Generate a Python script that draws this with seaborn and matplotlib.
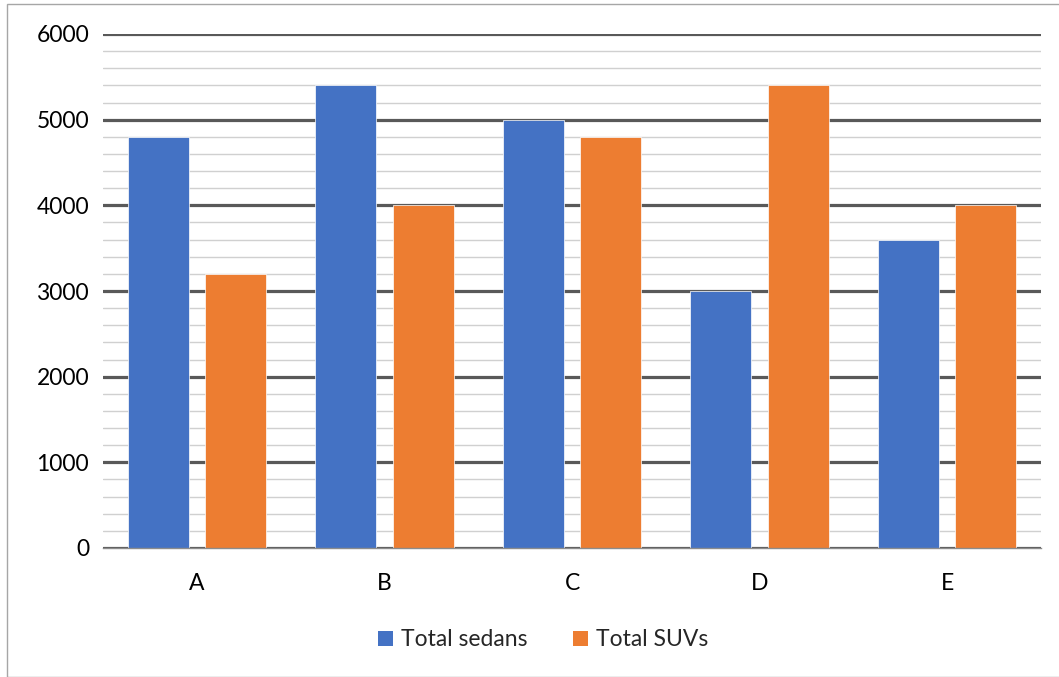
import matplotlib
matplotlib.use("Agg")
import matplotlib.pyplot as plt
from matplotlib.patches import Rectangle, Patch
from matplotlib.ticker import MultipleLocator
import seaborn as sns
import pandas as pd

categories = ["A", "B", "C", "D", "E"]
sedans = [4800, 5400, 5000, 3000, 3600]
suvs = [3200, 4000, 4800, 5400, 4000]
series_names = ["Total sedans", "Total SUVs"]
colors = ["#4472C4", "#ED7D31"]

df = pd.DataFrame({
    "category": categories * 2,
    "value": sedans + suvs,
    "series": [series_names[0]] * len(categories) + [series_names[1]] * len(categories),
})

sns.set_theme(style="white")
plt.rcParams["font.family"] = ["Lato", "DejaVu Sans"]

fig = plt.figure(figsize=(10.59, 6.77), dpi=100)
ax = fig.add_axes([103 / 1059, 1 - 548 / 677, (1041 - 103) / 1059, (548 - 34) / 677])

sns.barplot(data=df, x="category", y="value", hue="series", palette=colors,
            saturation=1, width=0.826, gap=0.213, ax=ax, legend=False,
            linewidth=0.5, edgecolor="white", zorder=3, errorbar=None)

ax.set_xlim(-0.5, 4.5)
ax.set_ylim(0, 6000)
ax.yaxis.set_major_locator(MultipleLocator(1000))
ax.yaxis.set_minor_locator(MultipleLocator(200))
ax.grid(which="major", axis="y", color="#595959", linewidth=2.3, zorder=1)
ax.grid(which="minor", axis="y", color="#D0D0D0", linewidth=1.0, zorder=0)
ax.grid(which="both", axis="x", visible=False)
ax.set_axisbelow(True)
for side in ["left", "right", "top"]:
    ax.spines[side].set_visible(False)
ax.spines["bottom"].set_color("#8C8C8C")
ax.spines["bottom"].set_linewidth(1.0)
ax.spines["bottom"].set_zorder(4)

ax.tick_params(axis="y", which="both", length=0, pad=10, labelsize=16.5, labelcolor="#000000")
ax.tick_params(axis="x", which="both", length=0, pad=18, labelsize=16.5, labelcolor="#000000")
ax.set_xlabel("")
ax.set_ylabel("")

handles = [Patch(facecolor=c, edgecolor="none") for c in colors]
fig.legend(handles, series_names, loc="center", bbox_to_anchor=(543 / 1059, 1 - 640 / 677),
           ncol=2, frameon=False, fontsize=16.5, handlelength=0.65, handleheight=0.65,
           handletextpad=0.35, columnspacing=2.0)

fig.patches.append(Rectangle((7 / 1059, 0), 1.0, 1 - 4 / 677, transform=fig.transFigure,
                             fill=False, edgecolor="#A6A6A6", linewidth=1.0))

fig.savefig("out.png", dpi=100)
